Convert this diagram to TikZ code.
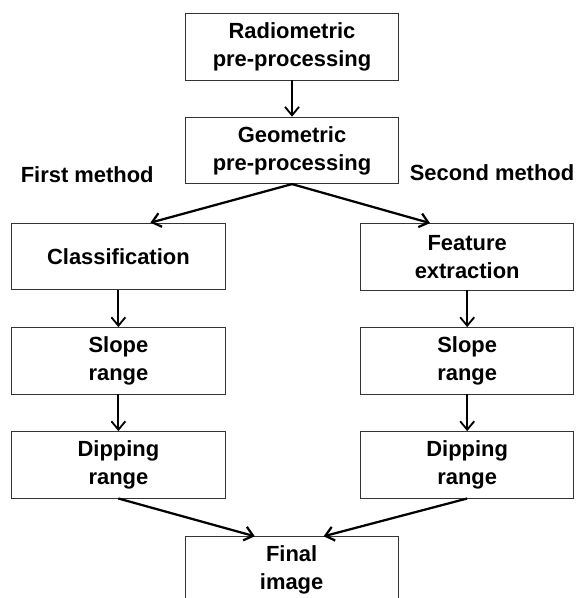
\documentclass[tikz,border=0pt]{standalone}
\usepackage{fontspec}
\setmainfont{Liberation Sans}
\usetikzlibrary{arrows.meta,calc}

\begin{document}
\begin{tikzpicture}[
  box/.style={draw=black!80, line width=0.7pt, minimum width=5.33cm, minimum height=1.66cm,
              align=center, font=\fontsize{15.6}{19.9}\selectfont\bfseries},
  arr/.style={-{Straight Barb[length=6pt, width=10pt]}, line width=1.3pt},
  slant/.style={arr, line width=1.6pt},
  lbl/.style={font=\fontsize{15.6}{19.9}\selectfont\bfseries},
]
\useasboundingbox (0,0) rectangle (14.7,14.95);
% --- Common pre-processing ---
\node[box] (radio) at (7.3,13.78) {Radiometric\\pre-processing};
\node[box] (geom) at (7.3,11.19) {Geometric\\pre-processing};

\node[lbl] (first) at (2.18,10.58) {First method};
\node[lbl] (second) at (12.3,10.63) {Second method};

% --- Left column: first method ---
\node[box] (class) at (2.96,8.54) {Classification};
\node[box] (lslope) at (2.96,5.93) {Slope\\range};
\node[box] (ldip) at (2.96,3.33) {Dipping\\range};

% --- Right column: second method ---
\node[box] (feat) at (11.68,8.53) {Feature\\extraction};
\node[box] (rslope) at (11.68,5.93) {Slope\\range};
\node[box] (rdip) at (11.68,3.33) {Dipping\\range};

% --- Result ---
\node[box] (final) at (7.29,0.7) {Final\\image};

\draw[arr] (radio) -- (geom);
\draw[slant] (geom.south) -- ($(class.north)+(0.8,0)$);
\draw[slant] (geom.south) -- ($(feat.north)+(-0.93,0)$);
\draw[arr] (class) -- (lslope);
\draw[arr] (lslope) -- (ldip);
\draw[arr] (feat) -- (rslope);
\draw[arr] (rslope) -- (rdip);
\draw[slant] (ldip.south) -- ($(final.north)+(-0.92,0)$);
\draw[slant] (rdip.south) -- ($(final.north)+(0.8,0)$);
\end{tikzpicture}
\end{document}
